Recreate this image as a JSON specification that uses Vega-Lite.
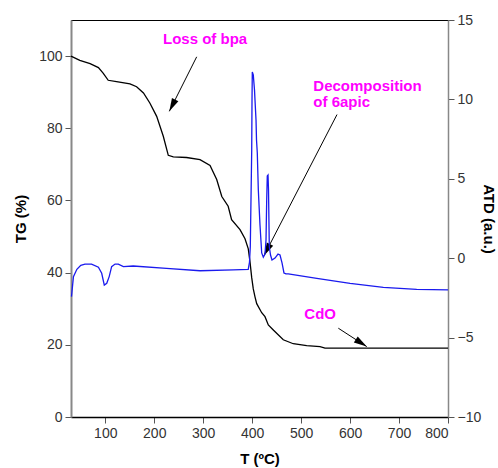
{
  "$schema": "https://vega.github.io/schema/vega-lite/v6.json",
  "width": 377,
  "height": 397,
  "autosize": {"type": "none"},
  "padding": {"left": 71, "top": 20, "right": 50, "bottom": 51},
  "config": {
    "font": "Liberation Sans",
    "view": {"stroke": "#000", "strokeWidth": 1},
    "axis": {
      "grid": false,
      "labelFont": "Liberation Sans",
      "labelFontSize": 14,
      "labelColor": "#333",
      "titleFont": "Liberation Sans",
      "titleFontSize": 15,
      "titleFontWeight": "bold",
      "titleColor": "#000",
      "tickSize": 6,
      "tickColor": "#555",
      "labelPadding": 3
    }
  },
  "datasets": {
    "tg": [
      {"T": 30, "TG": 100}, {"T": 48, "TG": 98.8}, {"T": 69, "TG": 97.9}, {"T": 86, "TG": 96.8},
      {"T": 96, "TG": 95.2}, {"T": 106, "TG": 93.3}, {"T": 123, "TG": 92.9}, {"T": 150.5, "TG": 92.3},
      {"T": 164, "TG": 91.5}, {"T": 178, "TG": 89.8}, {"T": 191, "TG": 87}, {"T": 205, "TG": 83.3},
      {"T": 218.5, "TG": 77.8}, {"T": 228.7, "TG": 72.5}, {"T": 239, "TG": 72.1}, {"T": 266, "TG": 71.9},
      {"T": 293.5, "TG": 71.3}, {"T": 314, "TG": 69.7}, {"T": 327.6, "TG": 65.8}, {"T": 338, "TG": 61.1},
      {"T": 351, "TG": 58.4}, {"T": 358, "TG": 54.7}, {"T": 375.2, "TG": 51.9}, {"T": 385.4, "TG": 49.4},
      {"T": 392.1, "TG": 46.6}, {"T": 395.6, "TG": 43.0}, {"T": 399.1, "TG": 38.6}, {"T": 402.3, "TG": 35.5},
      {"T": 405.8, "TG": 33.3}, {"T": 409.3, "TG": 31.4}, {"T": 419.5, "TG": 28.9}, {"T": 426.2, "TG": 27.8},
      {"T": 433.0, "TG": 25.5}, {"T": 443.2, "TG": 24.1}, {"T": 463.6, "TG": 21.4}, {"T": 484.0, "TG": 20.3},
      {"T": 511.4, "TG": 19.8}, {"T": 538.6, "TG": 19.5}, {"T": 548.8, "TG": 19.07}, {"T": 800, "TG": 19.07}
    ],
    "dta": [
      {"T": 31, "v": -2.42}, {"T": 35, "v": -1.16}, {"T": 42, "v": -0.7}, {"T": 50, "v": -0.45},
      {"T": 58.6, "v": -0.37}, {"T": 72, "v": -0.37}, {"T": 86, "v": -0.57}, {"T": 92.7, "v": -0.95},
      {"T": 98, "v": -1.69}, {"T": 103, "v": -1.58}, {"T": 108, "v": -1.16}, {"T": 113, "v": -0.53},
      {"T": 120, "v": -0.37}, {"T": 126.6, "v": -0.37}, {"T": 137, "v": -0.53}, {"T": 157, "v": -0.49},
      {"T": 225, "v": -0.64}, {"T": 293.5, "v": -0.79}, {"T": 361.5, "v": -0.74}, {"T": 392, "v": -0.7},
      {"T": 394.6, "v": -0.24}, {"T": 396.2, "v": 0.72}, {"T": 397.6, "v": 3.66}, {"T": 399.1, "v": 6.81},
      {"T": 399.7, "v": 9.96}, {"T": 400.3, "v": 11.73}, {"T": 402.3, "v": 11.54}, {"T": 404.8, "v": 10.59},
      {"T": 405.8, "v": 9.96}, {"T": 407.9, "v": 8.7}, {"T": 408.9, "v": 7.44}, {"T": 410.5, "v": 6.62},
      {"T": 412.6, "v": 4.29}, {"T": 416.0, "v": 2.09}, {"T": 419.5, "v": 0.33}, {"T": 422.8, "v": 0.06},
      {"T": 426.2, "v": 0.26}, {"T": 428.3, "v": 1.15}, {"T": 429.7, "v": 3.66}, {"T": 430.9, "v": 5.18},
      {"T": 432.4, "v": 5.24}, {"T": 433.4, "v": 4.29}, {"T": 435.0, "v": 0.72}, {"T": 437.5, "v": 0.2},
      {"T": 440.5, "v": -0.11}, {"T": 446.7, "v": 0.01}, {"T": 452.8, "v": 0.26}, {"T": 456.9, "v": 0.2},
      {"T": 461.0, "v": -0.3}, {"T": 465.0, "v": -0.93}, {"T": 469.1, "v": -0.99}, {"T": 473.8, "v": -0.99},
      {"T": 532, "v": -1.27}, {"T": 600, "v": -1.58}, {"T": 668, "v": -1.84}, {"T": 736, "v": -1.96},
      {"T": 800, "v": -2.0}
    ],
    "labels": [
      {"T": 217.9, "TG": 103.4, "label": "Loss of bpa"},
      {"T": 524.9, "TG": 90.3, "label": "Decomposition"},
      {"T": 524.9, "TG": 85.8, "label": "of 6apic"},
      {"T": 506.5, "TG": 27.1, "label": "CdO"}
    ],
    "arrows": [
      {"id": "bpa", "T": 230.8, "TG": 84.7, "T2": 286.7, "TG2": 99.8},
      {"id": "apic", "T": 424.2, "TG": 44.7, "T2": 573.3, "TG2": 83.8},
      {"id": "cdo", "T": 634, "TG": 19.5, "T2": 576, "TG2": 24.6}
    ]
  },
  "layer": [
    {
      "encoding": {
        "x": {
          "field": "T", "type": "quantitative",
          "scale": {"domain": [30, 800], "nice": false, "zero": false},
          "axis": {"values": [100, 200, 300, 400, 500, 600, 700, 800], "title": "T (ºC)", "domainColor": "#000", "domainWidth": 1.5, "titlePadding": 11}
        },
        "y": {
          "field": "TG", "type": "quantitative",
          "scale": {"domain": [0, 110], "nice": false, "zero": false},
          "axis": {"values": [0, 20, 40, 60, 80, 100], "title": "TG (%)", "domainColor": "#888", "domainWidth": 2, "titlePadding": 10}
        }
      },
      "layer": [
        {
          "data": {"name": "tg"},
          "mark": {"type": "line", "color": "#000", "strokeWidth": 1.3, "interpolate": "linear"}
        },
        {
          "data": {"name": "labels"},
          "mark": {"type": "text", "color": "#ff00ff", "fontSize": 15, "fontWeight": "bold", "align": "left", "baseline": "alphabetic", "font": "Liberation Sans"},
          "encoding": {"text": {"field": "label"}}
        },
        {
          "data": {"name": "arrows"},
          "mark": {"type": "rule", "color": "#000", "strokeWidth": 1},
          "encoding": {"x2": {"field": "T2"}, "y2": {"field": "TG2"}}
        },
        {
          "data": {"name": "arrows"},
          "transform": [{"filter": "datum.id == 'bpa'"}],
          "mark": {"type": "point", "shape": "M0,0L0.55,2L-0.55,2Z", "size": 170, "filled": true, "color": "#000", "opacity": 1, "angle": 206.7}
        },
        {
          "data": {"name": "arrows"},
          "transform": [{"filter": "datum.id == 'apic'"}],
          "mark": {"type": "point", "shape": "M0,0L0.55,2L-0.55,2Z", "size": 170, "filled": true, "color": "#000", "opacity": 1, "angle": 207.4}
        },
        {
          "data": {"name": "arrows"},
          "transform": [{"filter": "datum.id == 'cdo'"}],
          "mark": {"type": "point", "shape": "M0,0L0.55,2L-0.55,2Z", "size": 170, "filled": true, "color": "#000", "opacity": 1, "angle": 122.9}
        }
      ]
    },
    {
      "data": {"name": "dta"},
      "mark": {"type": "line", "color": "#1a1aee", "strokeWidth": 1.3, "interpolate": "linear"},
      "encoding": {
        "x": {"field": "T", "type": "quantitative", "axis": {"values": [100, 200, 300, 400, 500, 600, 700, 800], "title": "T (ºC)", "domainColor": "#000", "domainWidth": 1.5, "titlePadding": 11}},
        "y": {
          "field": "v", "type": "quantitative",
          "scale": {"domain": [-10, 15], "nice": false, "zero": false},
          "axis": {"orient": "right", "values": [-10, -5, 0, 5, 10, 15], "title": "ATD (a.u.)", "domainColor": "#888", "domainWidth": 1.5, "titlePadding": 0}
        }
      }
    }
  ],
  "resolve": {"scale": {"y": "independent"}}
}
